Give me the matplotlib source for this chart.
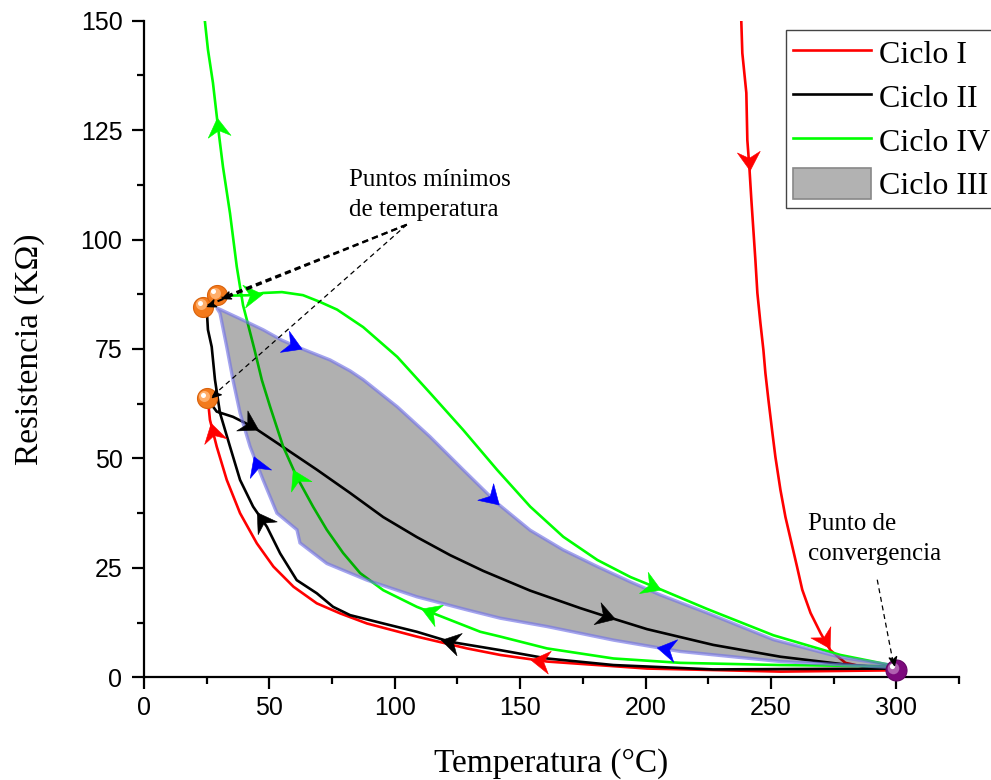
import numpy as np
import matplotlib
matplotlib.use("Agg")
import matplotlib.pyplot as plt
from matplotlib.path import Path
from matplotlib.markers import MarkerStyle
from matplotlib.transforms import Affine2D, ScaledTranslation
from matplotlib.patches import Polygon, Patch
from matplotlib.lines import Line2D
from matplotlib.ticker import MultipleLocator

# ---------------- data (Temperatura °C, Resistencia kΩ) ----------------
# Ciclo I: heating branch (from top) then cooling branch back to room temperature
c1_heat_T = [237.6, 238.2, 238.6, 240.2, 240.6, 241.4, 242.2, 243.8, 244.6, 245.8,
             247.0, 247.8, 249.0, 250.6, 251.8, 253.8, 255.8, 260.4, 262.5, 265.8,
             269.8, 273.7, 279.7, 290.0, 300.0]
c1_heat_R = [158.0, 149.7, 142.6, 133.5, 122.7, 116.6, 109.1, 95.4, 87.8, 81.0,
             74.8, 69.5, 63.4, 55.8, 50.3, 42.8, 36.6, 25.3, 20.0, 14.7,
             10.1, 6.2, 3.3, 2.0, 1.6]
c1_cool_T = [300.0, 253.8, 200.6, 160.7, 142.1, 128.8, 108.8, 88.9, 78.2, 68.9,
             59.6, 51.6, 45.0, 38.3, 33.0, 29.0, 26.3, 25.5]
c1_cool_R = [1.2, 1.3, 2.0, 3.6, 5.1, 6.6, 9.3, 12.3, 14.6, 16.9,
             20.7, 25.3, 30.6, 37.5, 45.1, 52.7, 58.8, 63.4]

# Ciclo II
c2_heat_T = [25.5, 29.0, 35.5, 43.5, 55.5, 69.0, 82.2, 95.4, 108.9, 122.1,
             135.3, 154.0, 174.0, 183.2, 200.6, 227.0, 253.8, 280.0, 300.0]
c2_heat_R = [63.4, 60.7, 59.5, 57.2, 52.6, 47.4, 42.1, 36.6, 32.0, 27.9,
             24.3, 19.8, 15.8, 14.1, 11.0, 7.4, 4.7, 2.9, 2.0]
c2_cool_T = [300.0, 227.0, 187.2, 160.7, 142.1, 122.1, 108.8, 95.4, 82.2, 75.4,
             68.9, 60.9, 54.3, 49.0, 43.5, 38.3, 34.3, 30.3, 28.3, 27.0,
             25.5, 25.0]
c2_cool_R = [1.6, 1.8, 2.8, 4.3, 6.2, 8.1, 10.4, 12.3, 14.2, 16.1,
             19.2, 22.2, 28.3, 34.4, 39.0, 45.1, 52.7, 60.4, 68.0, 75.5,
             79.4, 84.3]

# Ciclo IV
c4_heat_T = [29.5, 35.0, 43.5, 47.5, 55.0, 63.4, 70.0, 77.0, 87.4, 101.0,
             114.0, 127.3, 140.8, 154.0, 167.2, 180.8, 194.0, 204.7, 224.6, 251.0,
             277.7, 296.0, 300.0]
c4_heat_R = [87.0, 87.2, 87.3, 87.8, 88.0, 87.3, 85.8, 84.0, 80.0, 73.2,
             65.0, 56.5, 47.4, 39.0, 32.1, 26.8, 22.9, 20.4, 15.6, 9.6,
             5.1, 3.0, 2.5]
c4_cool_T = [300.0, 253.8, 213.9, 187.2, 160.7, 142.1, 134.1, 122.1, 108.8, 95.4,
             86.2, 79.4, 72.9, 67.4, 60.9, 55.5, 50.3, 47.0, 44.0, 41.0,
             39.5, 37.0, 34.3, 31.5, 29.5, 27.5, 25.5, 24.3, 23.5]
c4_cool_R = [2.5, 2.8, 3.3, 4.3, 6.6, 9.3, 10.4, 13.1, 16.1, 19.9,
             23.8, 28.4, 33.7, 39.0, 45.8, 52.7, 61.8, 67.9, 75.0, 81.7,
             85.0, 93.8, 106.0, 116.6, 125.8, 135.8, 143.4, 149.8, 156.0]

# Ciclo III (shaded loop): heating edge and cooling edge
c3_heat_T = [29.0, 38.0, 47.5, 55.0, 61.0, 74.2, 82.2, 87.4, 101.0, 114.0,
             127.3, 140.8, 154.0, 167.2, 180.8, 194.0, 206.0, 224.6, 251.0, 277.7,
             297.7, 300.0]
c3_heat_R = [84.4, 82.0, 79.4, 77.0, 75.5, 72.5, 70.0, 68.0, 61.8, 55.0,
             47.4, 39.8, 33.6, 29.1, 25.3, 21.8, 18.8, 14.7, 8.6, 4.6,
             2.8, 2.2]
c3_cool_T = [300.0, 253.8, 213.9, 187.2, 160.7, 142.1, 128.8, 108.8, 88.9, 72.9,
             62.2, 61.0, 53.0, 47.5, 42.3, 38.3, 35.5, 33.0, 30.3, 29.0]
c3_cool_R = [2.2, 3.6, 5.9, 8.5, 11.6, 13.5, 15.4, 18.4, 22.2, 26.0,
             30.7, 33.7, 37.5, 45.1, 52.7, 60.4, 67.9, 75.5, 83.2, 84.4]

# Marked points
min_T = [23.7, 29.0, 25.0]
min_R = [84.7, 87.3, 63.7]
conv_T = [299.7]
conv_R = [1.7]

# Direction arrows: approximate (T, R) where each arrowhead sits on its curve
arrows_c1 = [(241.0, 118.0), (271.5, 8.5), (158.0, 3.9), (27.8, 56.0)]
arrows_c2_heat = [(42.3, 57.5), (184.0, 13.8)]
arrows_c2_cool = [(122.0, 8.1), (47.2, 36.0)]
arrows_c4_heat = [(43.5, 87.3), (202.6, 21.0)]
arrows_c4_cool = [(29.5, 125.8), (61.0, 45.5), (114.0, 14.8)]
arrows_c3_heat = [(59.5, 76.0), (139.0, 41.0)]
arrows_c3_cool = [(45.5, 48.5), (208.0, 6.5)]

# Annotation pointers: (tail, tip)
ann_min_tail = (104.8, 103.4)
ann_min_tips = [(31.0, 86.7), (25.0, 84.9), (27.0, 64.1)]
ann_conv_tail = (292.4, 22.3)
ann_conv_tip = (298.9, 2.9)

x_ticks = [0, 50, 100, 150, 200, 250, 300]
y_ticks = [0, 25, 50, 75, 100, 125, 150]

# ---------------- figure ----------------
plt.rcParams['font.family'] = ['Liberation Sans', 'DejaVu Sans']
SERIF = ['Liberation Serif', 'DejaVu Serif']

fig = plt.figure(figsize=(9.91, 7.80), dpi=100)
ax = fig.add_axes([0.1453, 0.13167, 0.8224, 0.84179])
ax.set_xlim(0, 325)
ax.set_ylim(0, 150)

RED = '#ff0000'
GREEN = '#00ff00'
BLUE = '#0000ff'
LW = 1.9

def cat(a, b):
    return np.array(list(a) + list(b)[1:])

c1_T, c1_R = cat(c1_heat_T, c1_cool_T), cat(c1_heat_R, c1_cool_R)
c2_T, c2_R = cat(c2_heat_T, c2_cool_T), cat(c2_heat_R, c2_cool_R)
c4_T, c4_R = cat(c4_heat_T, c4_cool_T), cat(c4_heat_R, c4_cool_R)

ax.plot(c1_T, c1_R, color=RED, lw=LW, zorder=3)
ax.plot(c2_T, c2_R, color='black', lw=LW, zorder=3)
ax.plot(c4_T, c4_R, color=GREEN, lw=LW, zorder=3)

loop = np.column_stack([cat(c3_heat_T, c3_cool_T), cat(c3_heat_R, c3_cool_R)])
ax.add_patch(Polygon(loop, closed=True, facecolor=(0, 0, 0, 0.31),
                     edgecolor=(0.45, 0.45, 0.9, 0.65), lw=2.4, zorder=4))

# arrowhead shapes
HEAD = Path([(9, 0), (-9, 11), (-3, 0), (-9, -11), (9, 0)],
            [Path.MOVETO, Path.LINETO, Path.LINETO, Path.LINETO, Path.CLOSEPOLY])
TIP = Path([(0, 0), (-18, 8), (-13, 0), (-18, -8), (0, 0)],
           [Path.MOVETO, Path.LINETO, Path.LINETO, Path.LINETO, Path.CLOSEPOLY])


def head_on_curve(T, R, point, color, size=16.5):
    disp = ax.transData.transform(np.column_stack([T, R]))
    p = ax.transData.transform(point)
    a, b = disp[:-1], disp[1:]
    ab = b - a
    L2 = (ab ** 2).sum(1)
    L2[L2 == 0] = 1e-9
    t = np.clip(((p - a) * ab).sum(1) / L2, 0, 1)
    proj = a + t[:, None] * ab
    i = np.argmin(np.hypot(*(proj - p).T))
    seglen = np.hypot(*ab.T)
    s = np.concatenate([[0], np.cumsum(seglen)])
    sq = s[i] + t[i] * seglen[i]

    def at(sv):
        sv = np.clip(sv, 0, s[-1])
        return np.array([np.interp(sv, s, disp[:, 0]), np.interp(sv, s, disp[:, 1])])

    q = at(sq)
    v = at(sq + 10) - at(sq - 10)
    ang = np.degrees(np.arctan2(v[1], v[0]))
    xy = ax.transData.inverted().transform(q)
    m = MarkerStyle(HEAD, transform=Affine2D().rotate_deg(ang))
    ax.plot([xy[0]], [xy[1]], marker=m, ms=size, color=color, mec=color,
            mew=0.4, ls='none', zorder=6)


for pt in arrows_c1:
    head_on_curve(c1_T, c1_R, pt, RED)
for pt in arrows_c2_heat:
    head_on_curve(c2_heat_T, c2_heat_R, pt, 'black')
for pt in arrows_c2_cool:
    head_on_curve(c2_cool_T, c2_cool_R, pt, 'black')
for pt in arrows_c4_heat:
    head_on_curve(c4_heat_T, c4_heat_R, pt, GREEN)
for pt in arrows_c4_cool:
    head_on_curve(c4_cool_T, c4_cool_R, pt, GREEN)
for pt in arrows_c3_heat:
    head_on_curve(c3_heat_T, c3_heat_R, pt, BLUE)
for pt in arrows_c3_cool:
    head_on_curve(c3_cool_T, c3_cool_R, pt, BLUE)


def spheres(xs, ys, base, edge, mid, r=10):
    ms = 2 * r * 0.72
    ax.plot(xs, ys, 'o', ms=ms, mfc=base, mec=edge, mew=0.8, zorder=7, clip_on=False)
    off1 = ScaledTranslation(-0.22 * r / 100, 0.22 * r / 100, fig.dpi_scale_trans)
    ax.plot(xs, ys, 'o', ms=ms * 0.55, mfc=mid, mec='none', zorder=7,
            transform=ax.transData + off1, clip_on=False)
    off2 = ScaledTranslation(-0.38 * r / 100, 0.38 * r / 100, fig.dpi_scale_trans)
    ax.plot(xs, ys, 'o', ms=ms * 0.25, mfc='white', mec='none', zorder=7,
            transform=ax.transData + off2, clip_on=False)


spheres(min_T, min_R, '#f37a1c', '#d9620c', '#ffae6a')
spheres(conv_T, conv_R, '#7d0a7d', '#650565', '#b060b0', r=10.5)


def pointer(tail, tip, lw, dashes):
    ax.plot([tail[0], tip[0]], [tail[1], tip[1]], color='black', lw=lw,
            dashes=dashes, zorder=8)
    d = ax.transData.transform(tip) - ax.transData.transform(tail)
    ang = np.degrees(np.arctan2(d[1], d[0]))
    m = MarkerStyle(TIP, transform=Affine2D().rotate_deg(ang))
    ax.plot([tip[0]], [tip[1]], marker=m, ms=12, color='black', ls='none', zorder=8)


pointer(ann_min_tail, ann_min_tips[0], 1.5, (3, 2))
pointer(ann_min_tail, ann_min_tips[1], 1.5, (3, 2))
pointer(ann_min_tail, ann_min_tips[2], 0.9, (4, 3))
pointer(ann_conv_tail, ann_conv_tip, 0.9, (4, 3))

ax.text(81.8, 112.2, 'Puntos mínimos', family=SERIF, fontsize=18, va='baseline', ha='left')
ax.text(81.8, 105.4, 'de temperatura', family=SERIF, fontsize=18, va='baseline', ha='left')
ax.text(264.8, 33.7, 'Punto de', family=SERIF, fontsize=18, va='baseline', ha='left')
ax.text(264.8, 26.8, 'convergencia', family=SERIF, fontsize=18, va='baseline', ha='left')

# ---------------- axes styling ----------------
for side in ('top', 'right'):
    ax.spines[side].set_visible(False)
for side in ('left', 'bottom'):
    ax.spines[side].set_linewidth(1.6)
ax.set_xticks(x_ticks)
ax.set_yticks(y_ticks)
ax.xaxis.set_minor_locator(MultipleLocator(25))
ax.yaxis.set_minor_locator(MultipleLocator(12.5))
ax.tick_params(which='major', direction='out', length=8.5, width=1.6, labelsize=18)
ax.tick_params(which='minor', direction='out', length=5, width=1.6)
ax.tick_params(axis='x', which='major', pad=5)
ax.tick_params(axis='y', which='major', pad=7)

ax.set_xlabel('Temperatura (°C)', family=SERIF, fontsize=24)
ax.set_ylabel('Resistencia (KΩ)', family=SERIF, fontsize=24)
ax.xaxis.set_label_coords(0.5, -0.108)
ax.yaxis.set_label_coords(-0.122, 0.5)

handles = [Line2D([], [], color=RED, lw=LW),
           Line2D([], [], color='black', lw=LW),
           Line2D([], [], color=GREEN, lw=LW),
           Patch(facecolor='#b2b2b2', edgecolor='#888888', lw=1.2)]
labels = ['Ciclo I', 'Ciclo II', 'Ciclo IV', 'Ciclo III']
leg = fig.legend(handles, labels, loc='upper left', bbox_to_anchor=(0.7932, 0.9615),
                 bbox_transform=fig.transFigure, prop={'family': SERIF, 'size': 23},
                 frameon=True, fancybox=False, edgecolor='#444444', framealpha=1,
                 borderpad=0.22, labelspacing=0.33, handlelength=2.45, handleheight=1.1,
                 handletextpad=0.25, borderaxespad=0)
leg.get_frame().set_linewidth(1.0)

fig.savefig('out.png', dpi=100)
